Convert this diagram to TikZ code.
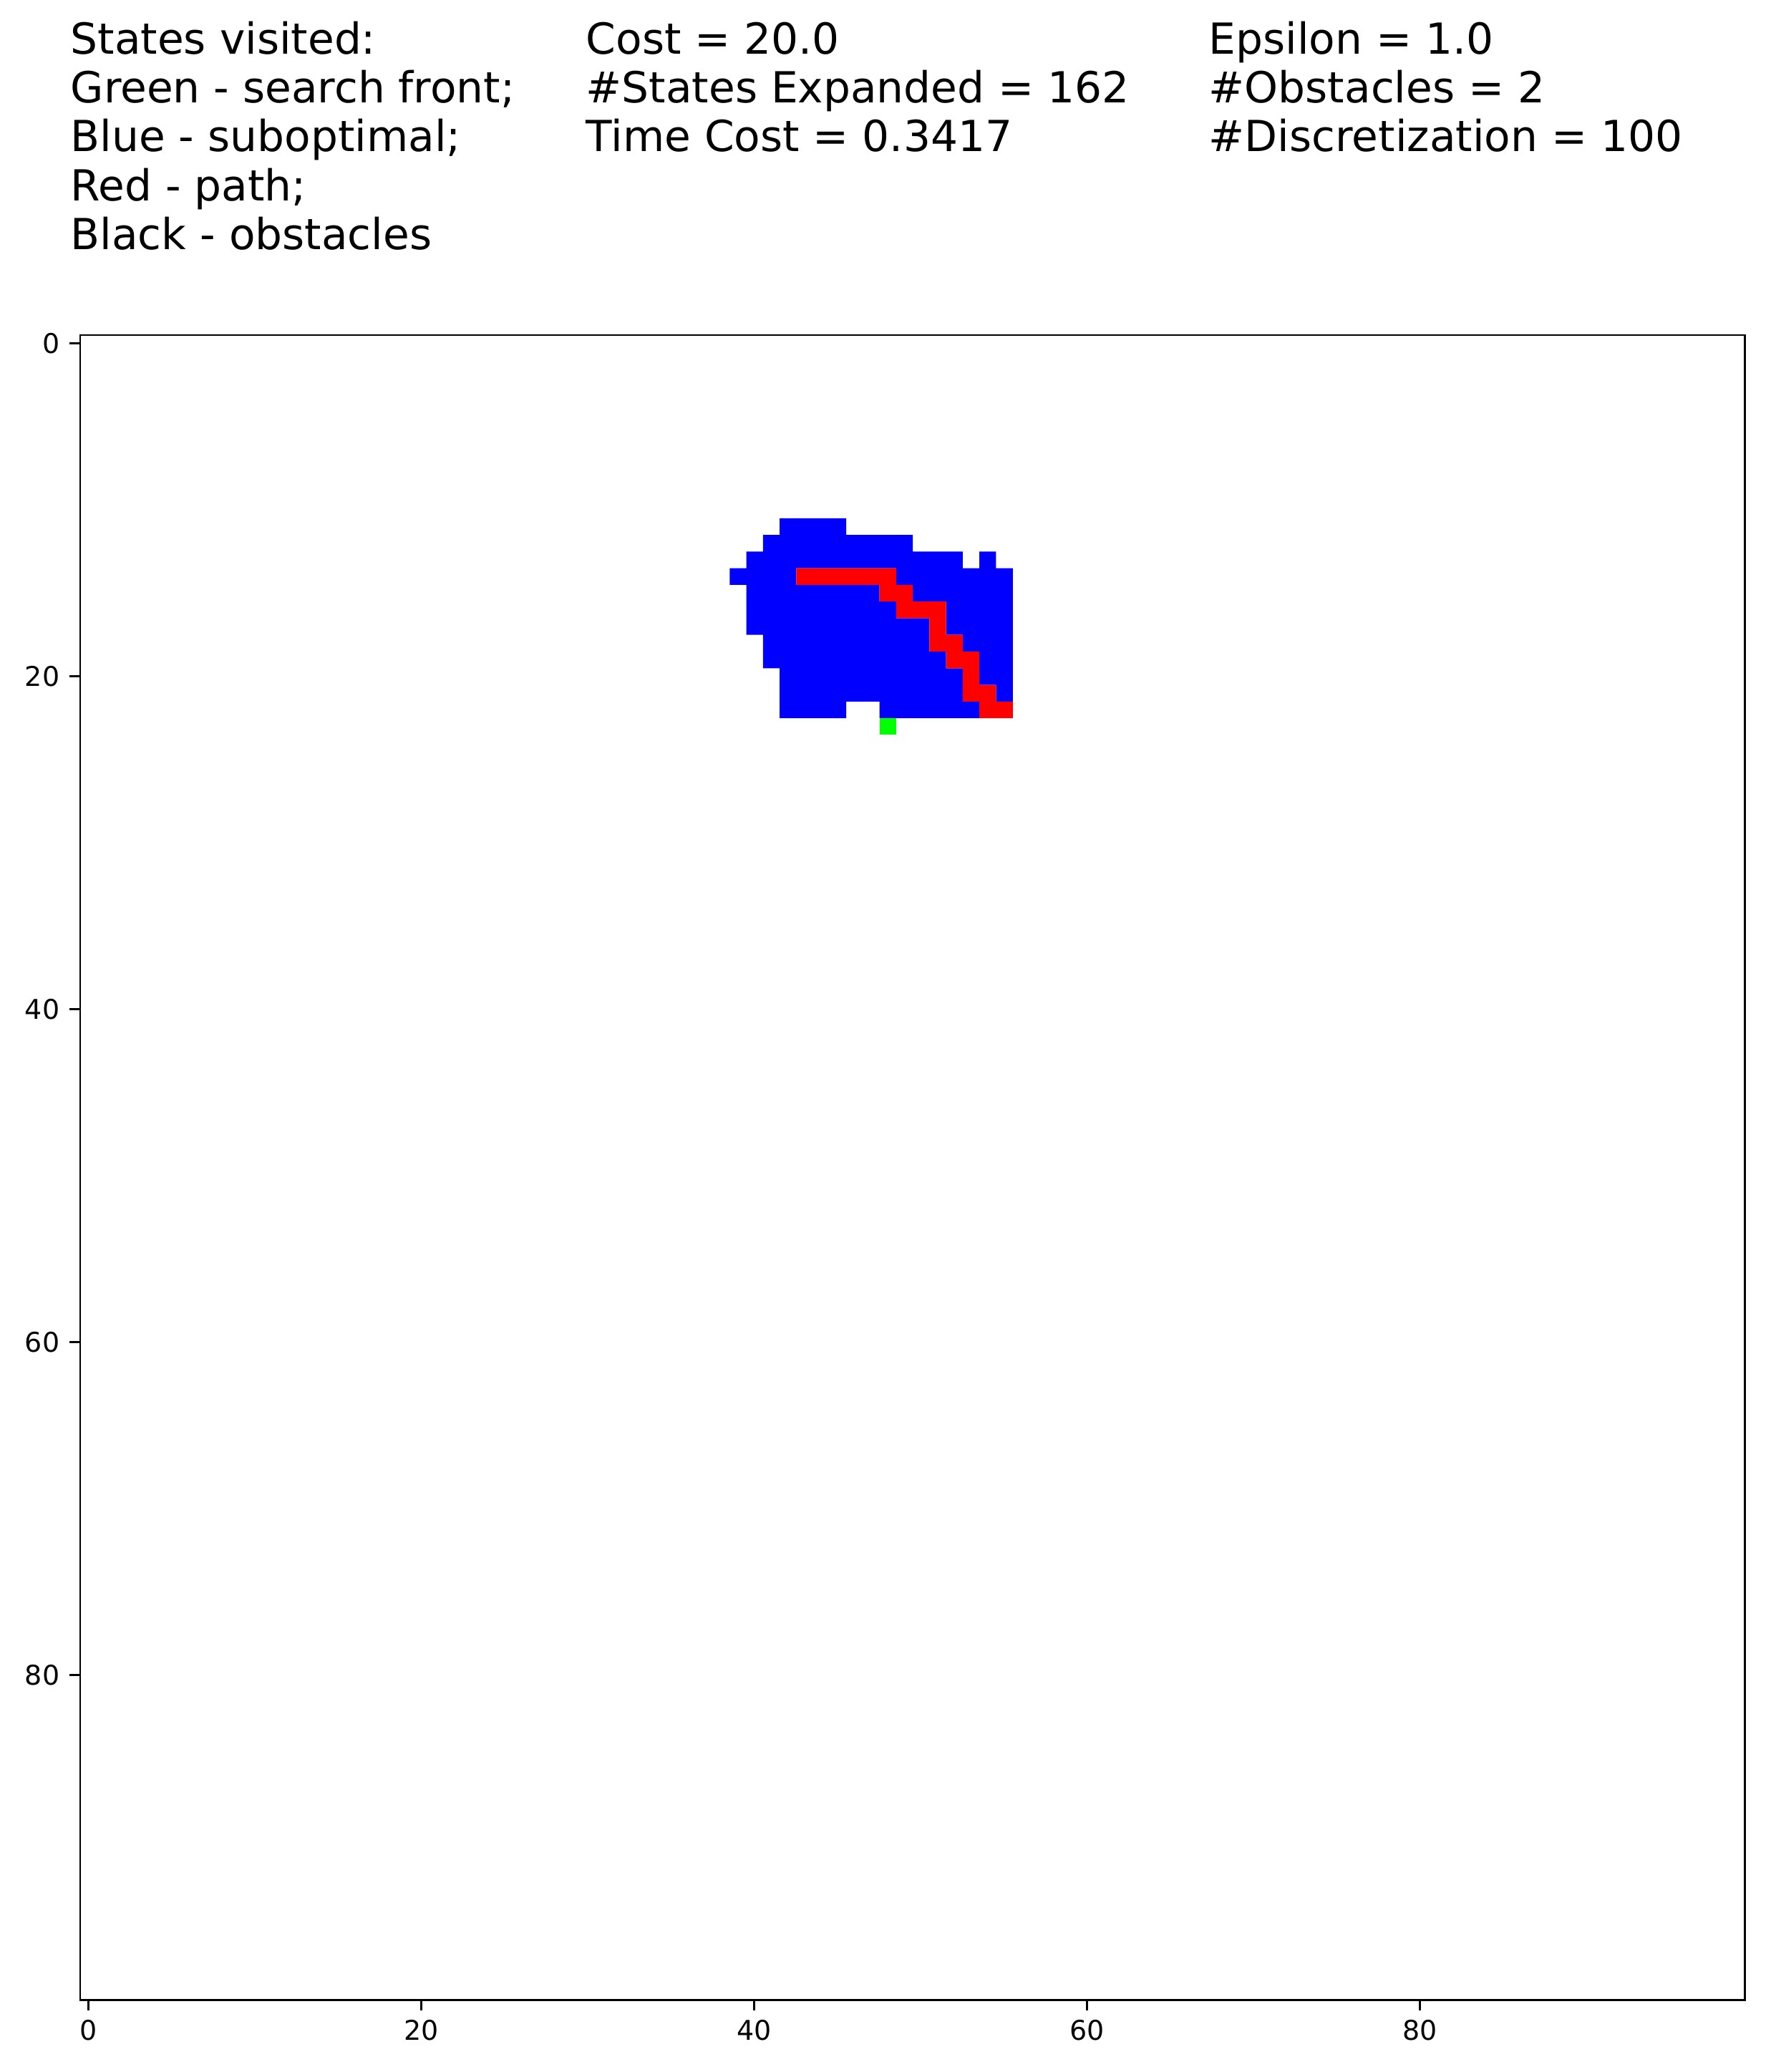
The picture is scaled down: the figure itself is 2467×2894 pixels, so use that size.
\documentclass[tikz,border=0pt]{standalone}
\usepackage{fontspec}
\setmainfont{DejaVu Sans}
\definecolor{cellblue}{RGB}{0,0,255}
\definecolor{cellred}{RGB}{255,0,0}
\definecolor{cellgreen}{RGB}{0,255,0}
\begin{document}
\begin{tikzpicture}[x=0.01cm,y=-0.01cm,
  title/.style={anchor=base west, inner sep=0pt, font=\fontsize{17}{20}\selectfont},
  ticklbl/.style={inner sep=0pt, font=\fontsize{10.8}{13}\selectfont},
  tickmark/.style={line width=0.85pt},
  spine/.style={line width=0.85pt},
  bluecell/.style={fill=cellblue},
  redcell/.style={fill=cellred},
  greencell/.style={fill=cellgreen}]
\useasboundingbox (0,0) rectangle (2467,2894);
\fill[white] (0,0) rectangle (2467,2894);

% header texts
\node[title] (l1) at (98,76) {States visited:};
\node[title] (l2) at (98,144) {Green - search front;};
\node[title] (l3) at (98,212) {Blue - suboptimal;};
\node[title] (l4) at (98,280) {Red - path;};
\node[title] (l5) at (98,348) {Black - obstacles};
\node[title] (m1) at (818,76) {Cost = 20.0};
\node[title] (m2) at (818,144) {\#States Expanded = 162};
\node[title] (m3) at (818,212) {Time Cost = 0.3417};
\node[title] (r1) at (1688,76) {Epsilon = 1.0};
\node[title] (r2) at (1688,144) {\#Obstacles = 2};
\node[title] (r3) at (1688,212) {\#Discretization = 100};

% grid cells
\begin{scope}[shift={(112,468)}, x=0.2325cm, y=-0.2325cm]
  \fill[bluecell] \foreach \r/\a/\b in {11/42/45, 12/41/49, 13/40/52, 13/54/54,
      14/39/42, 14/49/55, 15/40/47, 15/50/55, 16/40/48, 16/52/55,
      17/40/50, 17/52/55, 18/41/50, 18/53/55, 19/41/51, 19/54/55,
      20/42/52, 20/54/55, 21/42/52, 21/55/55, 22/42/45, 22/48/53}
    {(\a,\r) rectangle (\b+1,\r+1)};
  \fill[redcell] \foreach \r/\a/\b in {14/43/48, 15/48/49, 16/49/51, 17/51/51,
      18/51/52, 19/52/53, 20/53/53, 21/53/54, 22/54/55}
    {(\a,\r) rectangle (\b+1,\r+1)};
  \fill[greencell] (48,23) rectangle (49,24);
\end{scope}

% axes frame
\draw[spine] (112,468) rectangle (2437,2793);

% ticks
\foreach \i in {0,20,40,60,80} {
  \pgfmathsetmacro{\p}{112+(\i+0.5)*23.25}
  \draw[tickmark] (\p,2793) -- (\p,2808);
  \node[ticklbl, anchor=north] (xl\i) at (\p,2821) {\i};
  \pgfmathsetmacro{\q}{468+(\i+0.5)*23.25}
  \draw[tickmark] (112,\q) -- (97,\q);
  \node[ticklbl, anchor=east] (yl\i) at (84,\q) {\i};
}
\end{tikzpicture}
\end{document}
